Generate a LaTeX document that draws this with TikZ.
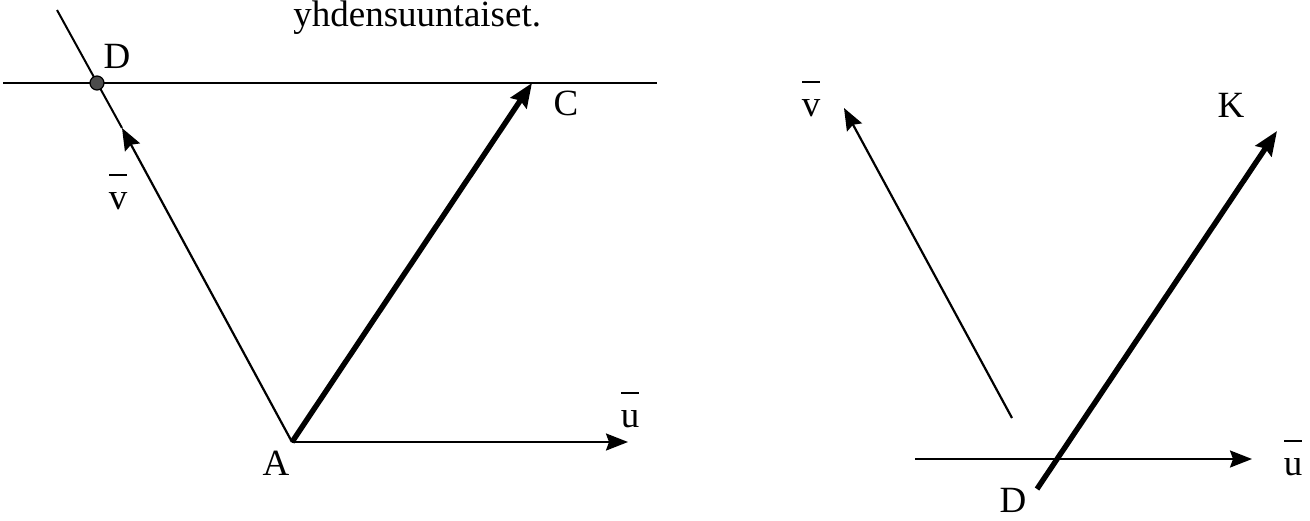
\documentclass[tikz,border=0pt]{standalone}
\usepackage{fontspec}
\setmainfont{Liberation Serif}
\usetikzlibrary{arrows.meta}
\begin{document}
\begin{tikzpicture}[x=0.5pt,y=-0.5pt,
  lbl/.style={inner sep=0pt,font=\fontsize{18.5}{20}\selectfont},
  vlbl/.style={inner sep=0pt,align=center,font=\fontsize{18.5}{17}\selectfont},
  thin/.style={line width=1pt},
  vec/.style={line width=1.1pt,-{Stealth[length=11pt,width=8.5pt,inset=1.5pt]}},
  thickvec/.style={line width=2.7pt,-{Stealth[length=12pt,width=9.5pt,inset=1.5pt]}},
  dot/.style={circle,draw=black,fill=black!70,line width=0.6pt,inner sep=0pt,minimum size=7pt}]
\useasboundingbox (0,0) rectangle (1310,520);
% title fragment
\node[lbl,anchor=base west] (title) at (293,26) {yhdensuuntaiset.};
% left figure
\coordinate (A) at (292,442);
\coordinate (C) at (532,83);
\coordinate (Vtip) at (122,128);
\coordinate (Ltop) at (57,10);
\coordinate (Hl) at (3,83);
\coordinate (Hr) at (657,83);
\coordinate (U1) at (628,442);
\draw[thin] (Hl) -- (Hr);
\draw[thin] (Ltop) -- (Vtip);
\draw[vec] (A) -- (Vtip);
\draw[thickvec] (A) -- (C);
\draw[vec] (A) -- (U1);
\node[dot] (D) at (97,83) {};
\node[lbl] (Dl) at (117,56) {D};
\node[lbl] (Cl) at (566,103) {C};
\node[lbl] (Al) at (276,463) {A};
\node[vlbl] (vl) at (118,192) {\rule{9pt}{0.7pt}\\v};
\node[vlbl] (ul) at (630,410) {\rule{9pt}{0.7pt}\\u};
% right figure
\coordinate (V2s) at (1012,418);
\coordinate (V2t) at (844,108);
\coordinate (K2s) at (1037,489);
\coordinate (K2t) at (1277,131);
\coordinate (U2s) at (915,459);
\coordinate (U2t) at (1252,459);
\draw[vec] (V2s) -- (V2t);
\draw[vec] (U2s) -- (U2t);
\draw[thickvec] (K2s) -- (K2t);
\node[lbl] (Kl) at (1231,105) {K};
\node[lbl] (D2l) at (1013,500) {D};
\node[vlbl] (v2l) at (811,99) {\rule{9pt}{0.7pt}\\v};
\node[vlbl] (u2l) at (1293,458) {\rule{9pt}{0.7pt}\\u};
\end{tikzpicture}
\end{document}
